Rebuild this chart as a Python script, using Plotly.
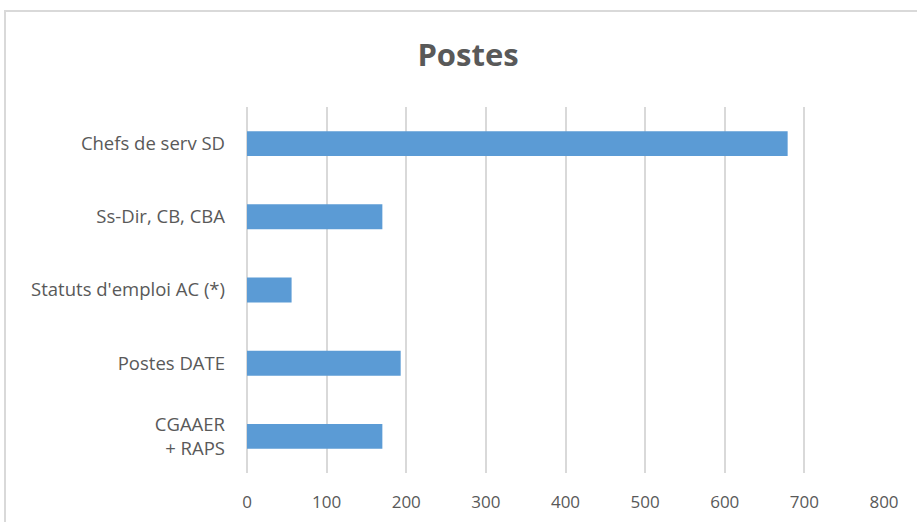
import plotly.graph_objects as go

categories = ["Chefs de serv SD", "Ss-Dir, CB, CBA", "Statuts d'emploi AC (*)", "Postes DATE", "CGAAER<br>+ RAPS"]
values = [679, 170, 56, 193, 170]
x_ticks = [0, 100, 200, 300, 400, 500, 600, 700, 800]
title_text = "Postes"

W, H = 917, 522
L, R, T, B = 247, 33, 107, 49
pw, ph = W - L - R, H - T - B

def px_x(p):
    return (p - L) / pw

def px_y(p):
    return (H - B - p) / ph

fig = go.Figure(go.Bar(
    x=values, y=categories, orientation="h",
    marker=dict(color="#5b9bd5", line=dict(width=0)),
    width=0.34,
))

fig.update_layout(
    width=W, height=H,
    margin=dict(l=L, r=R, t=T, b=B),
    paper_bgcolor="white", plot_bgcolor="white",
    showlegend=False,
    title=dict(text="<b>" + title_text + "</b>", x=468 / W, xref="container", xanchor="center",
               y=1 - 55 / H, yref="container", yanchor="middle",
               font=dict(family="Open Sans", size=31, color="#595959")),
    font=dict(family="Open Sans", color="#595959"),
    xaxis=dict(range=[0, 800], tickvals=x_ticks, showgrid=True, gridcolor="#d9d9d9", gridwidth=2,
               zeroline=True, zerolinecolor="#d9d9d9", zerolinewidth=2, automargin=False,
               showline=False, ticks="", ticklabelstandoff=17,
               tickfont=dict(family="Open Sans", size=17, color="#595959")),
    yaxis=dict(autorange="reversed", showgrid=False, zeroline=False, showline=False, ticks="",
               ticklabelstandoff=21, automargin=False,
               tickfont=dict(family="Open Sans", size=18.5, color="#595959")),
    shapes=[dict(type="rect", xref="paper", yref="paper",
                 x0=px_x(5), x1=px_x(W + 20), y0=px_y(H + 20), y1=px_y(11),
                 line=dict(color="#d9d9d9", width=2), fillcolor="rgba(0,0,0,0)", layer="below")],
)

fig.write_html("out.html")
